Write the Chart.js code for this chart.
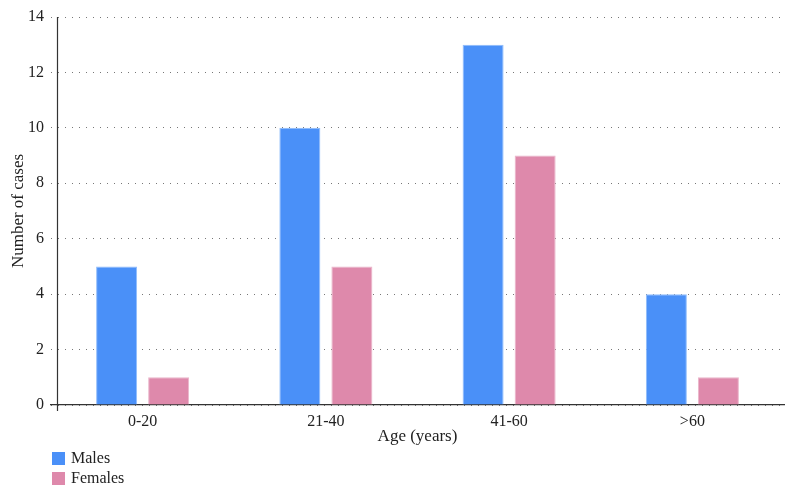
<!DOCTYPE html>
<html>
<head>
<meta charset="utf-8">
<script src="https://cdn.jsdelivr.net/npm/chart.js@4"></script>
<style>
  html, body { margin: 0; padding: 0; background: #fff; }
  #wrap { width: 794px; height: 494px; }
</style>
</head>
<body>
<div id="wrap"><canvas id="chart"></canvas></div>
<script>
// data
var ageGroups = ["0-20", "21-40", "41-60", ">60"];
var males = [5, 10, 13, 4];
var females = [1, 5, 9, 1];
var seriesNames = ["Males", "Females"];
var seriesColors = ["#4a90f8", "#de89ab"];

var serif = "'Liberation Serif', 'DejaVu Serif', serif";

// vertical axis line sits a little inside the plot, gridlines start left of it
var yAxisLine = {
  id: "yAxisLine",
  afterDatasetsDraw: function (chart) {
    var a = chart.chartArea, ctx = chart.ctx;
    var x = Math.round(a.left + 6) + 0.5;
    ctx.save();
    ctx.strokeStyle = "#333";
    ctx.lineWidth = 1.2;
    ctx.beginPath();
    ctx.moveTo(x, a.top);
    ctx.lineTo(x, a.bottom + 6);
    ctx.stroke();
    ctx.restore();
  }
};

// legend stacked under the axis, bottom left
var stackedLegend = {
  id: "stackedLegend",
  afterDraw: function (chart) {
    var ctx = chart.ctx;
    ctx.save();
    ctx.font = "16px " + serif;
    ctx.textBaseline = "middle";
    chart.data.datasets.forEach(function (ds, i) {
      var y = 458 + i * 20;
      ctx.fillStyle = ds.backgroundColor;
      ctx.fillRect(52, y - 6, 13, 13);
      ctx.fillStyle = "#222";
      ctx.fillText(ds.label, 71, y + 1);
    });
    ctx.restore();
  }
};

new Chart(document.getElementById("chart"), {
  type: "bar",
  data: {
    labels: ageGroups,
    datasets: [
      { label: seriesNames[0], data: males, backgroundColor: seriesColors[0], borderColor: "#8fbcfb", borderWidth: 1 },
      { label: seriesNames[1], data: females, backgroundColor: seriesColors[1], borderColor: "#eab5ca", borderWidth: 1 }
    ]
  },
  options: {
    responsive: true,
    maintainAspectRatio: false,
    animation: false,
    layout: { padding: { left: 0, right: 10, top: 17, bottom: 47 } },
    categoryPercentage: 0.568,
    barPercentage: 0.788,
    plugins: {
      legend: { display: false },
      tooltip: { enabled: false }
    },
    scales: {
      x: {
        afterFit: function (s) { s.height = 42; },
        grid: { display: false },
        border: { display: true, color: "#333", width: 1.2 },
        ticks: { color: "#222", font: { family: serif, size: 16 }, padding: -1 },
        title: { display: true, text: "Age (years)", color: "#222", font: { family: serif, size: 17 }, padding: 0 }
      },
      y: {
        afterFit: function (s) { s.width = 51; },
        min: 0,
        max: 14,
        ticks: { stepSize: 2, color: "#222", font: { family: serif, size: 16 }, padding: 7 },
        grid: { color: "#777", lineWidth: 1, drawTicks: false },
        border: { display: false, dash: [1, 6] },
        title: { display: true, text: "Number of cases", color: "#222", font: { family: serif, size: 17 }, padding: { top: 8, bottom: 0 } }
      }
    }
  },
  plugins: [yAxisLine, stackedLegend]
});
</script>
</body>
</html>
